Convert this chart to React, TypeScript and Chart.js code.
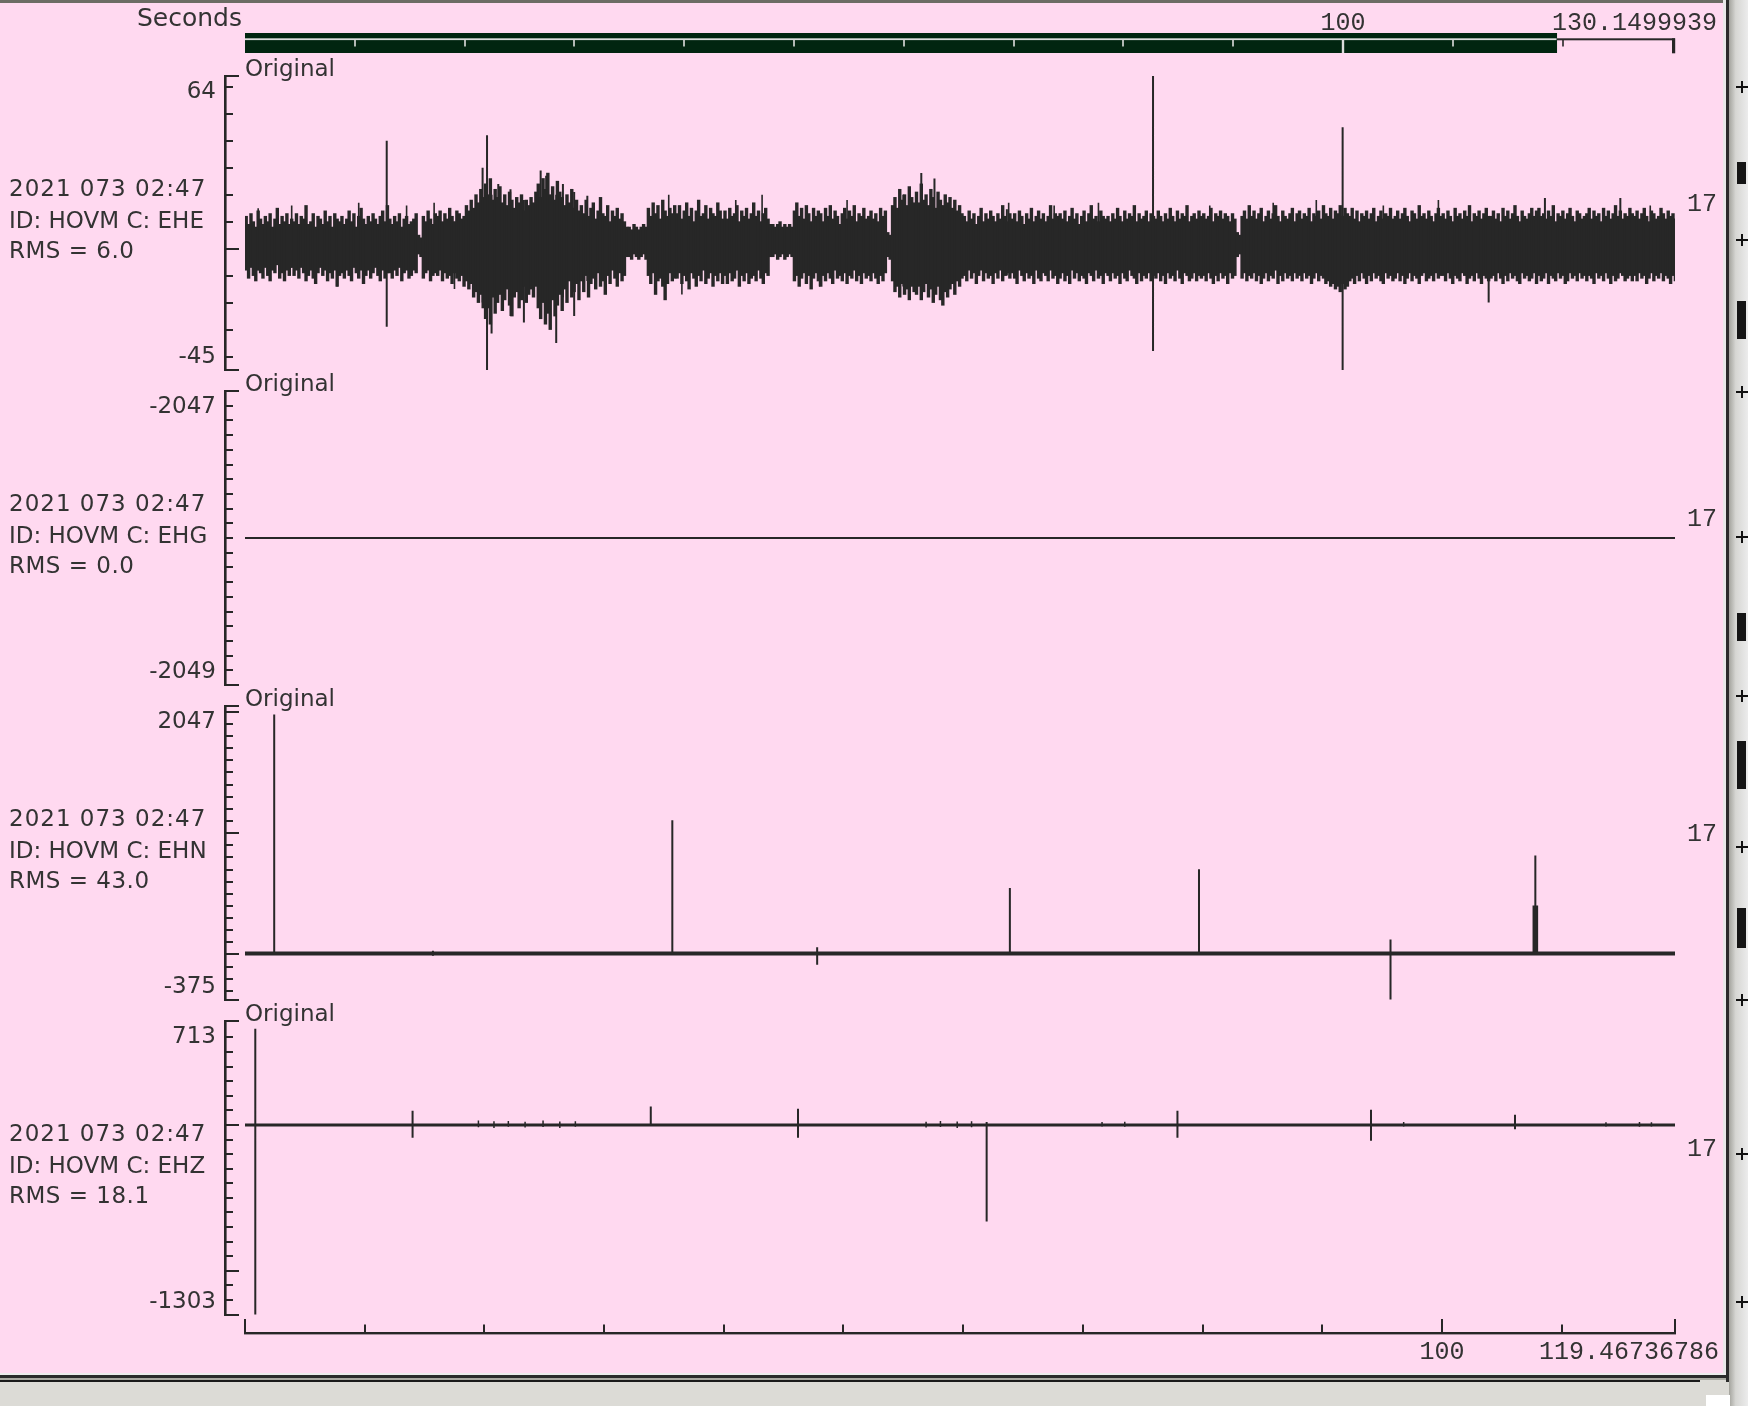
import React, { useEffect, useRef } from "react";
import { Chart, registerables } from "chart.js";

Chart.register(...registerables);

// ---------------- values ----------------
const VIEW_END = 119.46736786;
const TOTAL_END = 130.1499939;
const VIEW_END_LABEL = "119.46736786";
const TOTAL_END_LABEL = "130.1499939";
const TIME_TICK_STEP = 10;
const TIME_MAJOR_STEP = 100;
const TOP_AXIS_TITLE = "Seconds";

const dateLabel = "2021 073 02:47";
const stationId = "HOVM";
const channels = ["EHE", "EHG", "EHN", "EHZ"];
const rmsLabels = ["6.0", "0.0", "43.0", "18.1"];
const sideValues = ["17", "17", "17", "17"];
const traceTitle = "Original";
const yTop = [64, -2047, 2047, 713];
const yBottom = [-45, -2049, -375, -1303];
const yMinorStep = [10, 0.1, 100, 100];
const yMajorStep = [100, 0, 1000, 1000];

// EHE: min/max envelope per 0.2 s column (one row = 4 s)
const eheColSeconds = 0.2;
const eheHi = [
  12, 9, 13, 10, 8, 14, 11, 9, 12, 10, 13, 8, 11, 15, 9, 12, 10, 13, 9, 11,
  10, 13, 9, 12, 11, 16, 9, 10, 13, 8, 12, 11, 9, 14, 10, 12, 8, 13, 11, 10,
  12, 9, 11, 14, 10, 13, 8, 12, 15, 11, 9, 12, 10, 13, 11, 9, 12, 14, 10, 16,
  11, 9, 12, 10, 13, 8, 11, 12, 9, 10, 11, 13, 5, 4, 12, 10, 14, 11, 9, 13,
  12, 14, 10, 13, 11, 15, 12, 10, 14, 13, 11, 12, 16, 14, 18, 15, 20, 17, 22, 19,
  24, 20, 26, 18, 22, 19, 23, 17, 20, 16, 21, 18, 15, 19, 17, 20, 14, 18, 16, 19,
  17, 21, 24, 19, 26, 22, 28, 20, 23, 18, 25, 21, 19, 16, 20, 17, 22, 15, 18, 14,
  16, 13, 18, 12, 15, 17, 11, 14, 19, 13, 12, 16, 10, 14, 12, 15, 11, 13, 10, 8,
  8, 7, 9, 8, 7, 8, 9, 8, 15, 12, 17, 13, 16, 11, 18, 14, 12, 15, 13, 16,
  13, 16, 11, 14, 17, 12, 15, 10, 14, 18, 12, 13, 16, 11, 15, 13, 12, 17, 14, 11,
  14, 11, 15, 12, 13, 16, 10, 14, 12, 15, 11, 13, 17, 12, 14, 10, 13, 15, 11, 9,
  9, 8, 9, 10, 8, 9, 8, 9, 8, 14, 17, 12, 15, 11, 16, 13, 10, 15, 12, 14,
  13, 10, 15, 12, 16, 11, 14, 12, 9, 13, 15, 11, 14, 12, 16, 10, 13, 12, 15, 11,
  12, 14, 11, 13, 10, 15, 12, 14, 6, 5, 16, 19, 15, 22, 18, 20, 16, 23, 19, 17,
  21, 17, 24, 18, 20, 16, 22, 19, 15, 21, 18, 16, 20, 17, 19, 15, 18, 14, 16, 13,
  12, 10, 14, 11, 13, 9, 12, 15, 10, 13, 11, 14, 12, 10, 13, 11, 16, 12, 10, 13,
  11, 13, 10, 14, 12, 9, 13, 11, 15, 10, 12, 14, 11, 13, 10, 12, 16, 11, 13, 12,
  13, 11, 14, 10, 12, 15, 11, 13, 9, 12, 14, 10, 13, 16, 11, 12, 10, 14, 12, 11,
  12, 10, 13, 11, 15, 12, 10, 14, 11, 13, 12, 16, 10, 13, 11, 12, 14, 10, 13, 12,
  11, 14, 12, 10, 13, 11, 15, 12, 10, 14, 11, 13, 12, 16, 10, 12, 13, 11, 14, 12,
  13, 11, 12, 15, 10, 13, 12, 14, 11, 13, 12, 10, 13, 11, 6, 5, 12, 14, 11, 16,
  12, 14, 11, 13, 15, 10, 12, 14, 11, 13, 16, 12, 10, 14, 12, 11, 13, 15, 10, 13,
  14, 11, 13, 12, 15, 10, 13, 12, 14, 11, 16, 13, 12, 15, 11, 14, 13, 16, 12, 15,
  13, 12, 15, 11, 14, 10, 13, 12, 14, 11, 13, 15, 10, 12, 14, 11, 13, 12, 15, 11,
  12, 14, 11, 13, 15, 12, 10, 14, 13, 11, 16, 12, 13, 11, 14, 12, 10, 13, 15, 12,
  13, 11, 14, 12, 10, 15, 12, 13, 11, 14, 12, 16, 10, 13, 12, 14, 11, 13, 15, 12,
  12, 14, 11, 13, 10, 15, 12, 14, 11, 13, 16, 12, 10, 14, 12, 11, 13, 15, 12, 14,
  15, 12, 13, 11, 14, 12, 16, 10, 13, 12, 14, 11, 13, 15, 12, 10, 14, 13, 11, 12,
  13, 15, 11, 14, 12, 13, 10, 15, 12, 14, 11, 13, 16, 12, 14, 11, 13, 12, 15, 13,
  12, 14, 11, 13, 15, 12, 10, 14, 13, 11, 12, 15, 13, 11, 14, 12, 13, 11, 14, 12,
];
const eheLo = [
  -8, -11, -7, -10, -12, -8, -9, -11, -7, -10, -12, -8, -9, -6, -11, -9, -12, -8, -10, -7,
  -10, -8, -11, -7, -9, -12, -10, -8, -11, -13, -9, -7, -10, -8, -12, -9, -11, -8, -14, -10,
  -9, -11, -8, -10, -12, -7, -9, -11, -8, -13, -10, -8, -11, -9, -7, -10, -12, -8, -11, -9,
  -9, -11, -8, -10, -7, -12, -9, -8, -11, -10, -8, -9, -2, -3, -11, -9, -8, -12, -10, -9,
  -10, -8, -12, -9, -11, -10, -13, -9, -11, -12, -10, -14, -12, -15, -13, -18, -16, -20, -17, -22,
  -26, -22, -28, -18, -24, -20, -17, -23, -19, -15, -21, -25, -18, -16, -22, -19, -14, -20, -17, -15,
  -18, -14, -22, -26, -20, -28, -24, -30, -19, -25, -21, -17, -23, -15, -20, -12, -18, -16, -13, -19,
  -12, -16, -10, -18, -13, -11, -15, -9, -14, -12, -17, -10, -13, -8, -11, -14, -9, -12, -10, -3,
  -3, -4, -2, -3, -4, -3, -2, -4, -10, -13, -9, -17, -12, -11, -14, -19, -13, -9, -12, -11,
  -11, -9, -13, -10, -12, -15, -9, -11, -14, -10, -12, -8, -13, -11, -9, -14, -10, -12, -9, -13,
  -10, -13, -9, -12, -11, -8, -14, -10, -12, -9, -13, -11, -10, -12, -8, -11, -13, -9, -10, -3,
  -3, -2, -4, -3, -2, -4, -3, -2, -3, -12, -10, -14, -11, -9, -13, -10, -15, -11, -9, -12,
  -14, -10, -12, -9, -11, -13, -8, -11, -10, -12, -9, -13, -10, -11, -8, -12, -10, -13, -9, -11,
  -10, -12, -9, -11, -13, -10, -12, -9, -3, -4, -12, -16, -14, -18, -13, -17, -15, -19, -14, -16,
  -17, -14, -19, -16, -13, -18, -15, -20, -17, -14, -19, -21, -16, -18, -15, -13, -17, -12, -14, -11,
  -10, -12, -8, -11, -9, -13, -10, -8, -12, -9, -11, -10, -13, -9, -11, -8, -12, -10, -9, -11,
  -9, -11, -13, -8, -10, -12, -9, -11, -10, -13, -8, -11, -12, -9, -10, -12, -8, -11, -10, -13,
  -11, -9, -12, -10, -13, -8, -11, -9, -12, -10, -11, -13, -9, -10, -12, -8, -11, -10, -13, -9,
  -10, -12, -9, -11, -10, -13, -9, -11, -12, -8, -10, -11, -13, -9, -12, -10, -11, -9, -12, -10,
  -11, -9, -12, -10, -13, -9, -11, -10, -12, -8, -11, -13, -9, -10, -12, -11, -9, -12, -10, -11,
  -10, -12, -9, -11, -13, -10, -12, -9, -11, -10, -13, -9, -11, -10, -3, -2, -11, -9, -12, -10,
  -11, -9, -12, -10, -13, -11, -9, -12, -10, -11, -8, -13, -10, -12, -9, -11, -10, -12, -9, -11,
  -10, -12, -9, -11, -10, -13, -11, -9, -12, -10, -11, -13, -12, -14, -13, -15, -14, -16, -13, -15,
  -14, -12, -11, -13, -10, -12, -9, -11, -13, -10, -12, -9, -11, -10, -12, -13, -9, -11, -10, -12,
  -11, -9, -12, -10, -13, -11, -9, -12, -10, -11, -13, -10, -9, -12, -11, -10, -12, -9, -11, -10,
  -10, -12, -9, -11, -13, -10, -11, -12, -9, -10, -13, -11, -10, -12, -9, -11, -13, -10, -11, -12,
  -11, -10, -12, -9, -11, -13, -10, -12, -9, -11, -10, -12, -13, -9, -11, -10, -12, -11, -9, -13,
  -10, -12, -11, -9, -13, -10, -11, -12, -9, -11, -10, -13, -12, -9, -11, -10, -12, -9, -11, -10,
  -12, -10, -11, -13, -9, -11, -10, -12, -9, -11, -13, -10, -12, -11, -9, -10, -12, -11, -10, -12,
  -10, -12, -9, -11, -10, -13, -11, -9, -12, -10, -11, -9, -12, -10, -11, -13, -10, -12, -9, -11,
];
// tall isolated excursions
const eheSpikeT = [11.84, 19.85, 20.22, 20.6, 21.16, 22.18, 23.3, 24.7, 25.16, 26.0, 26.56, 27.5, 28.6, 55.0, 56.5, 57.6, 58.2, 63.65, 75.86, 91.7, 103.9, 108.6, 114.9];
const eheSpikeHi = [40, 30, 42, 20, 24, 22, 18, 29, 27, 20, 24, 21, 19.6, 20, 28, 26, 16, 14.6, 64, 45, 12, 18.8, 18.8];
const eheSpikeLo = [-29, -20, -45, -31.5, -16, -25, -27.4, -18, -20, -35, -18, -25, -12, -14, -14, -15, -19, -10, -38, -45, -20, -8, -8];
// medium excursions just outside the band
const eheMidT = [1.1, 3.9, 7.7, 9.5, 13.5, 15.8, 17.5, 35.4, 36.5, 41.0, 43.2, 48.0, 50.3, 63.8, 67.6, 71.3, 80.6, 85.9, 89.5, 95.1, 99.7, 117.4];
const eheMidHi = [15, 16, 9, 17, 16, 17, 10, 20, 11, 18, 20, 10, 18, 17, 16, 17, 16, 17, 18, 16, 18, 16];
const eheMidLo = [-8, -7, -14, -8, -7, -8, -15, -9, -17, -8, -9, -14, -8, -7, -8, -7, -8, -7, -9, -8, -7, -8];

// EHG: flat trace
const ehgLevel = -2048;

// EHN: baseline + spikes
const ehnBase = 8;
const ehnSpikeT = [2.44, 15.7, 35.7, 47.8, 63.9, 79.7, 95.7, 107.65, 107.8, 107.95];
const ehnSpikeHi = [1976, 30, 1106, 60, 547, 703, 124, 404, 815, 404];
const ehnSpikeLo = [8, -10, 8, -85, 8, 8, -370, 8, 8, 8];

// EHZ: baseline + spikes + small blips
const ehzBase = 0;
const ehzSpikeT = [0.86, 14.0, 33.9, 46.2, 61.96, 77.9, 94.07, 106.1];
const ehzSpikeHi = [660, 98, 126, 112, 20, 98, 105, 70];
const ehzSpikeLo = [-1300, -87, 0, -87, -662, -87, -108, -30];
const ehzBlipT = [19.5, 20.8, 22.0, 23.4, 24.9, 26.3, 27.6, 56.9, 58.1, 59.5, 60.7, 71.6, 73.5, 96.8, 113.7, 116.5, 117.5];
const ehzBlipHi = [30, 25, 28, 22, 30, 24, 26, 22, 28, 24, 26, 20, 22, 20, 18, 20, 18];
const ehzBlipLo = [-15, -20, -12, -18, -14, -20, -12, -18, -14, -20, -16, -10, -12, -10, -10, -12, -10];

// ---------------- layout / style ----------------
const PINK = "rgb(255,217,240)";
const INK = "#272727";
const TEXT = "#333333";
const SANS = '"DejaVu Sans", sans-serif';
const MONO = '"Liberation Mono", "DejaVu Sans Mono", monospace';
const PINK_R = 1723;
const PINK_B = 1373;
const PLOT_L = 245;
const PLOT_R = 1675;
const AXIS_X = 225;
const PANEL_TOP = [76, 391, 706, 1021];
const PANEL_H = 294;
const PAD_TOP = 34;
const EHE_BAR_PX = (eheColSeconds * (PLOT_R - PLOT_L)) / VIEW_END + 0.35;

function spikePoints(ts: number[], his: number[], los: number[]) {
  const pts: any[] = [];
  ts.forEach((t, i) => {
    pts.push({ x: t, y: los[i] }, { x: t, y: his[i] }, { x: t, y: null });
  });
  return pts;
}

function flatLine(v: number) {
  return [
    { x: 0, y: v },
    { x: VIEW_END, y: v },
  ];
}

function lineDs(data: any[], width: number) {
  return {
    type: "line",
    data,
    borderColor: INK,
    borderWidth: width,
    pointRadius: 0,
    spanGaps: false,
    tension: 0,
  };
}

function setLS(ctx: any, v: string) {
  try {
    ctx.letterSpacing = v;
  } catch (e) {}
}

function panelDecor(idx: number) {
  return {
    id: "panelDecor" + idx,
    afterDraw(chart: any) {
      const ctx = chart.ctx;
      const ys = chart.scales.y;
      const xs = chart.scales.x;
      const top = Math.round(ys.getPixelForValue(yTop[idx]));
      const bot = Math.round(ys.getPixelForValue(yBottom[idx]));
      ctx.save();
      ctx.fillStyle = INK;
      ctx.fillRect(AXIS_X - 1, top - 1, 2.6, bot - top + 2);
      ctx.fillRect(AXIS_X - 1, top - 1, 15, 2);
      ctx.fillRect(AXIS_X - 1, bot - 1, 15, 2);
      const step = yMinorStep[idx];
      const major = yMajorStep[idx];
      const n0 = Math.ceil(yBottom[idx] / step - 1e-6);
      const n1 = Math.floor(yTop[idx] / step + 1e-6);
      for (let n = n0; n <= n1; n++) {
        const v = n * step;
        const py = Math.round(ys.getPixelForValue(v));
        if (py - top < 3 || bot - py < 3) continue;
        const isMajor = major > 0 && Math.abs(v / major - Math.round(v / major)) < 1e-6;
        ctx.fillRect(AXIS_X, py - 1, isMajor ? 14 : 8, 2);
      }

      ctx.fillStyle = TEXT;
      ctx.font = `23px ${SANS}`;
      ctx.textBaseline = "alphabetic";
      ctx.textAlign = "right";
      ctx.fillText(String(yTop[idx]), 216, top + 22);
      ctx.fillText(String(yBottom[idx]), 216, bot - 7);
      ctx.textAlign = "left";
      ctx.fillText(traceTitle, PLOT_L, top);
      setLS(ctx, "1px");
      ctx.fillText(dateLabel, 9, top + 120);
      setLS(ctx, "0px");
      ctx.fillText(`ID: ${stationId} C: ${channels[idx]}`, 9, top + 152);
      setLS(ctx, "0.5px");
      ctx.fillText(`RMS = ${rmsLabels[idx]}`, 9, top + 182);
      setLS(ctx, "0px");
      ctx.font = `25px ${MONO}`;
      ctx.textAlign = "right";
      ctx.fillText(sideValues[idx], 1717, top + 135);

      if (idx === 3) {
        const axisY = bot + 18;
        const x0 = xs.getPixelForValue(0);
        const x1 = xs.getPixelForValue(VIEW_END);
        ctx.fillStyle = INK;
        ctx.fillRect(x0 - 1, axisY - 1, x1 - x0 + 2, 2.4);
        for (let t = 0; t < VIEW_END; t += TIME_TICK_STEP) {
          const px = Math.round(xs.getPixelForValue(t));
          const isMajor = t % TIME_MAJOR_STEP === 0;
          const len = isMajor ? 14 : 8.5;
          ctx.fillRect(px - 1, axisY - len, 2, len);
        }
        ctx.fillRect(Math.round(x1) - 1, axisY - 14, 2, 14);
        ctx.fillStyle = TEXT;
        ctx.font = `25px ${MONO}`;
        ctx.textAlign = "center";
        ctx.fillText(String(TIME_MAJOR_STEP), xs.getPixelForValue(TIME_MAJOR_STEP), axisY + 26);
        ctx.textAlign = "right";
        ctx.fillText(VIEW_END_LABEL, 1719, axisY + 26);
      }
      ctx.restore();
    },
  };
}

function buildConfig(idx: number, padTop: number, padBottom: number): any {
  const datasets: any[] = [];
  if (idx === 0) {
    datasets.push({
      type: "bar",
      data: eheHi.map((h, i) => ({ x: (i + 0.5) * eheColSeconds, y: [eheLo[i], h] })),
      backgroundColor: INK,
      borderWidth: 0,
      barThickness: EHE_BAR_PX,
      grouped: false,
    });
    datasets.push(lineDs(spikePoints(eheMidT, eheMidHi, eheMidLo), 1.6));
    datasets.push(lineDs(spikePoints(eheSpikeT, eheSpikeHi, eheSpikeLo), 2));
  } else if (idx === 1) {
    datasets.push(lineDs(flatLine(ehgLevel), 2));
  } else if (idx === 2) {
    datasets.push(lineDs(flatLine(ehnBase), 4));
    datasets.push(lineDs(spikePoints(ehnSpikeT, ehnSpikeHi, ehnSpikeLo), 2));
  } else {
    datasets.push(lineDs(flatLine(ehzBase), 3));
    datasets.push(lineDs(spikePoints(ehzBlipT, ehzBlipHi, ehzBlipLo), 1.5));
    datasets.push(lineDs(spikePoints(ehzSpikeT, ehzSpikeHi, ehzSpikeLo), 2));
  }
  return {
    type: idx === 0 ? "bar" : "line",
    data: { datasets },
    options: {
      responsive: false,
      animation: false,
      devicePixelRatio: 1,
      events: [],
      layout: { padding: { left: PLOT_L, right: PINK_R - PLOT_R, top: padTop, bottom: padBottom } },
      scales: {
        x: { type: "linear", min: 0, max: VIEW_END, display: false, offset: false },
        y: { type: "linear", min: yBottom[idx], max: yTop[idx], display: false },
      },
      plugins: { legend: { display: false }, tooltip: { enabled: false }, title: { display: false } },
    },
    plugins: [panelDecor(idx)],
  };
}

function Panel({ idx }: { idx: number }) {
  const ref = useRef<HTMLCanvasElement>(null);
  const padBottom = idx === 3 ? PINK_B - (PANEL_TOP[3] + PANEL_H) : 14;
  const height = PAD_TOP + PANEL_H + padBottom;
  useEffect(() => {
    const chart = new Chart(ref.current as HTMLCanvasElement, buildConfig(idx, PAD_TOP, padBottom));
    return () => chart.destroy();
  }, [idx]);
  return (
    <canvas
      ref={ref}
      width={PINK_R}
      height={height}
      style={{ position: "absolute", left: 0, top: PANEL_TOP[idx] - PAD_TOP, width: PINK_R, height }}
    />
  );
}

const GREEN = "#012510";
const LIGHT = "#dcdcdc";

const topDecor = {
  id: "topDecor",
  afterDraw(chart: any) {
    const ctx = chart.ctx;
    const xs = chart.scales.x;
    const x0 = xs.getPixelForValue(0);
    const xv = xs.getPixelForValue(VIEW_END);
    const xe = xs.getPixelForValue(TOTAL_END);
    ctx.save();
    ctx.fillStyle = LIGHT;
    ctx.fillRect(x0, 38.3, xv - x0, 1.8);
    ctx.fillStyle = INK;
    ctx.fillRect(xv, 38.3, xe - xv + 1, 2);
    for (let t = TIME_TICK_STEP; t < TOTAL_END - 1; t += TIME_TICK_STEP) {
      const px = Math.round(xs.getPixelForValue(t));
      const isMajor = t % TIME_MAJOR_STEP === 0;
      ctx.fillStyle = t < VIEW_END ? LIGHT : INK;
      ctx.fillRect(px - (isMajor ? 1.2 : 0.8), 40, isMajor ? 2.4 : 1.6, isMajor ? 13 : 6.5);
    }
    ctx.fillStyle = INK;
    ctx.fillRect(Math.round(xe) - 2, 38.3, 3.2, 15);
    ctx.fillStyle = TEXT;
    ctx.textBaseline = "alphabetic";
    ctx.font = `25px ${SANS}`;
    ctx.textAlign = "right";
    ctx.fillText(TOP_AXIS_TITLE, 242, 26);
    ctx.font = `25px ${MONO}`;
    ctx.textAlign = "center";
    ctx.fillText(String(TIME_MAJOR_STEP), xs.getPixelForValue(TIME_MAJOR_STEP), 30);
    ctx.textAlign = "right";
    ctx.fillText(TOTAL_END_LABEL, 1717, 30);
    ctx.restore();
  },
};

function TopBar() {
  const ref = useRef<HTMLCanvasElement>(null);
  useEffect(() => {
    const chart = new Chart(ref.current as HTMLCanvasElement, {
      type: "bar",
      data: {
        labels: ["view"],
        datasets: [
          {
            data: [[0, VIEW_END]] as any,
            backgroundColor: GREEN,
            borderWidth: 0,
            barPercentage: 1,
            categoryPercentage: 1,
          },
        ],
      },
      options: {
        indexAxis: "y",
        responsive: false,
        animation: false,
        devicePixelRatio: 1,
        events: [],
        layout: { padding: { left: PLOT_L, right: PINK_R - 1674, top: 33, bottom: 7 } },
        scales: {
          x: { type: "linear", min: 0, max: TOTAL_END, display: false, offset: false },
          y: { type: "category", display: false },
        },
        plugins: { legend: { display: false }, tooltip: { enabled: false } },
      } as any,
      plugins: [topDecor],
    });
    return () => chart.destroy();
  }, []);
  return (
    <canvas
      ref={ref}
      width={PINK_R}
      height={60}
      style={{ position: "absolute", left: 0, top: 0, width: PINK_R, height: 60 }}
    />
  );
}

const crossYs = [87, 240, 392, 537, 696, 847, 1000, 1154, 1302];
const blobs = [
  [162, 22],
  [301, 38],
  [613, 28],
  [741, 48],
  [908, 40],
];

function abs(l: number, t: number, w: number, h: number, bg: string): any {
  return { position: "absolute", left: l, top: t, width: w, height: h, background: bg };
}

export default function App() {
  return (
    <div style={{ position: "absolute", left: 0, top: 0, width: 1748, height: 1406, background: "#dcdbd6", overflow: "hidden" }}>
      <div style={abs(0, 0, 1730, 3, "#6c6c64")} />
      <div style={abs(0, 3, PINK_R, PINK_B - 3, PINK)} />
      <div style={abs(1723, 0, 3, 1377, "#e8e8e8")} />
      <div style={abs(1726, 0, 3, 1382, "#2a2a2a")} />
      <div style={abs(1729, 0, 19, 1406, "linear-gradient(to right, #a3a39d, #d6d6d3 35%, #ececec)")} />
      <div style={abs(0, 1373, 1726, 2, "#ececec")} />
      <div style={abs(0, 1375, 1726, 2.5, "#2a2a2a")} />
      <div style={abs(0, 1377.5, 1726, 2, "#a8a8a0")} />
      <div style={abs(0, 1379.5, 1700, 2.5, "#1a1a1a")} />
      <div style={abs(1706, 1395, 24, 11, "#ffffff")} />
      {crossYs.map((y) => (
        <React.Fragment key={y}>
          <div style={abs(1736, y - 1, 12, 2, "#111")} />
          <div style={abs(1741, y - 6, 2, 12, "#111")} />
        </React.Fragment>
      ))}
      {blobs.map(([y, h]) => (
        <div key={y} style={abs(1737, y, 9, h, "#151515")} />
      ))}
      <TopBar />
      {[0, 1, 2, 3].map((i) => (
        <Panel key={i} idx={i} />
      ))}
    </div>
  );
}
